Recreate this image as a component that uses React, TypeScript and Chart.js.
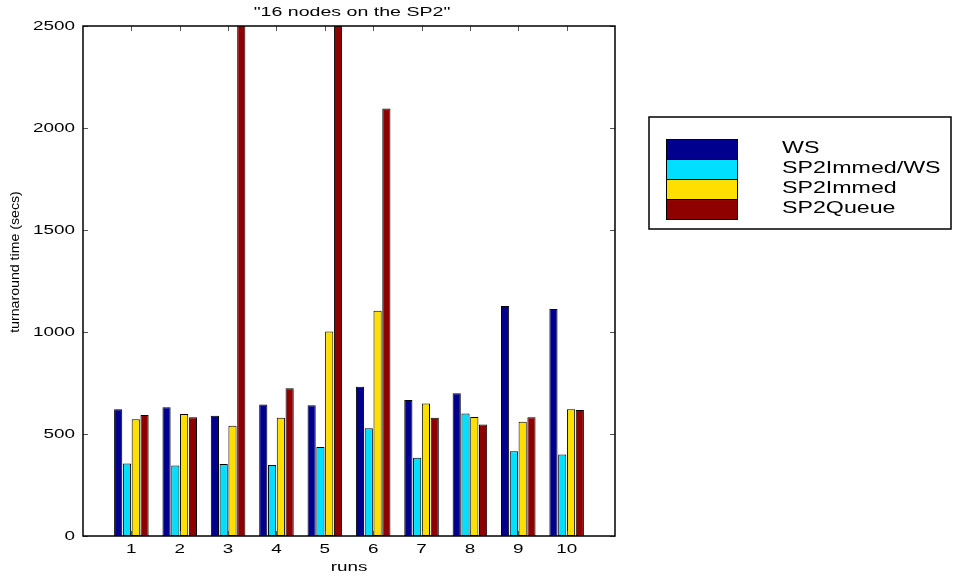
import React, { useEffect, useRef } from 'react';
import { Chart, registerables } from 'chart.js';

Chart.register(...registerables);

const categories = [1, 2, 3, 4, 5, 6, 7, 8, 9, 10];
const xTickLabels = ['1', '2', '3', '4', '5', '6', '7', '8', '9', '10'];
const yTicks = [0, 500, 1000, 1500, 2000, 2500];
const seriesNames = ['WS', 'SP2Immed/WS', 'SP2Immed', 'SP2Queue'];
const ws = [621, 631, 590, 644, 641, 732, 667, 700, 1127, 1113];
const sp2ImmedWS = [356, 345, 353, 348, 436, 528, 384, 601, 415, 399];
const sp2Immed = [572, 598, 541, 580, 1003, 1104, 650, 583, 560, 621];
const sp2Queue = [593, 582, 3000, 724, 3000, 2095, 580, 546, 582, 618];
const seriesColors = ['#00008f', '#00dfff', '#ffdf00', '#8f0000'];
const titleText = '"16 nodes on the SP2"';
const xTitle = 'runs';
const yTitle = 'turnaround time (secs)';

const FONT = '"Liberation Sans", Arial, Helvetica, sans-serif';

function drawText(
  ctx: CanvasRenderingContext2D,
  text: string,
  x: number,
  y: number,
  align: CanvasTextAlign,
  size: number,
  sx: number,
  rot = 0
) {
  ctx.save();
  ctx.translate(x, y);
  if (rot) ctx.rotate(rot);
  ctx.scale(sx, 1);
  ctx.font = `${size}px ${FONT}`;
  ctx.fillStyle = '#000';
  ctx.textAlign = align;
  ctx.textBaseline = 'middle';
  ctx.fillText(text, 0, 0);
  ctx.restore();
}

const matlabPlugin = {
  id: 'matlabDecor',
  afterDatasetsDraw(chart: any) {
    const { ctx, chartArea } = chart;
    const { left, right, top, bottom } = chartArea;
    const xs = chart.scales.x;
    const ys = chart.scales.y;
    const STRETCH = 1.45;

    // ticks (inward)
    ctx.save();
    ctx.strokeStyle = '#555';
    ctx.lineWidth = 1;
    categories.forEach((c) => {
      const px = Math.round(xs.getPixelForValue(c)) + 0.5;
      ctx.beginPath();
      ctx.moveTo(px, bottom);
      ctx.lineTo(px, bottom - 5);
      ctx.moveTo(px, top);
      ctx.lineTo(px, top + 5);
      ctx.stroke();
    });
    yTicks.forEach((v) => {
      const py = Math.round(ys.getPixelForValue(v)) + 0.5;
      ctx.beginPath();
      ctx.moveTo(left, py);
      ctx.lineTo(left + 5, py);
      ctx.moveTo(right, py);
      ctx.lineTo(right - 5, py);
      ctx.stroke();
    });
    ctx.restore();

    // frame
    ctx.save();
    ctx.strokeStyle = '#000';
    ctx.lineWidth = 1.5;
    ctx.strokeRect(left, top, right - left, bottom - top);
    ctx.restore();

    // tick labels
    yTicks.forEach((v) => {
      drawText(ctx, String(v), left - 8, ys.getPixelForValue(v), 'right', 13, STRETCH);
    });
    categories.forEach((c, i) => {
      drawText(ctx, xTickLabels[i], xs.getPixelForValue(c), bottom + 13, 'center', 13, STRETCH);
    });

    // axis titles
    drawText(ctx, xTitle, (left + right) / 2, bottom + 31, 'center', 13, STRETCH);
    drawText(ctx, yTitle, 16, 262, 'center', 12, 1.18, -Math.PI / 2);

    // chart title
    drawText(ctx, titleText, (left + right) / 2 + 3, 12, 'center', 13.5, STRETCH);

    // legend
    const bx = 649, by = 117, bw = 302, bh = 112;
    ctx.save();
    ctx.fillStyle = '#fff';
    ctx.fillRect(bx, by, bw, bh);
    ctx.strokeStyle = '#000';
    ctx.lineWidth = 1.5;
    ctx.strokeRect(bx, by, bw, bh);
    const sx = 666, sw = 71, sy0 = 139, sh = 20;
    seriesNames.forEach((name, i) => {
      const y = sy0 + i * sh;
      ctx.fillStyle = seriesColors[i];
      ctx.fillRect(sx, y, sw, sh);
      ctx.strokeStyle = '#000';
      ctx.lineWidth = 1;
      ctx.strokeRect(sx + 0.5, y + 0.5, sw, sh);
      drawText(ctx, name, 782, y + sh / 2, 'left', 16, STRETCH);
    });
    ctx.restore();
  },
};

export default function App() {
  const canvasRef = useRef<HTMLCanvasElement | null>(null);

  useEffect(() => {
    if (!canvasRef.current) return;
    const seriesValues = [ws, sp2ImmedWS, sp2Immed, sp2Queue];
    const chart = new Chart(canvasRef.current, {
      type: 'bar',
      data: {
        datasets: seriesValues.map((vals, i) => ({
          label: seriesNames[i],
          data: vals.map((v, j) => ({ x: categories[j], y: v })),
          backgroundColor: seriesColors[i],
          borderColor: '#000',
          borderWidth: 1,
          borderSkipped: false,
          categoryPercentage: 0.727,
          barPercentage: 0.93,
          clip: 0,
        })),
      },
      options: {
        animation: false,
        responsive: false,
        devicePixelRatio: 1,
        layout: { padding: { left: 83, right: 344, top: 26, bottom: 41 } },
        plugins: {
          legend: { display: false },
          title: { display: false },
          tooltip: { enabled: false },
        },
        scales: {
          x: { type: 'linear', min: 0, max: 11, display: false, offset: false },
          y: { type: 'linear', min: 0, max: 2500, display: false },
        },
      },
      plugins: [matlabPlugin],
    } as any);
    return () => chart.destroy();
  }, []);

  return (
    <div style={{ position: 'fixed', left: 0, top: 0, width: 959, height: 577, background: '#fff' }}>
      <canvas ref={canvasRef} width={959} height={577} style={{ display: 'block' }} />
    </div>
  );
}
